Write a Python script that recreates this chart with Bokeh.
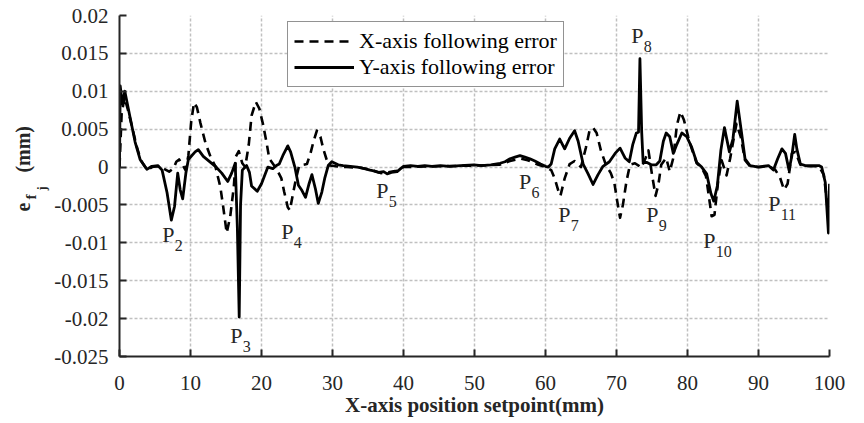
from bokeh.plotting import figure
from bokeh.models import FixedTicker, Legend, LegendItem, Title, Range1d
from bokeh.embed import file_html
from bokeh.resources import INLINE
from bokeh.core.properties import value

# ---------------- data ----------------
x_err_pos = [0, 0.3, 0.7, 1.2, 1.8, 2.4, 3.0, 3.9, 4.6, 5.4, 6.2, 7.0, 7.6, 8.0, 8.4, 8.8, 9.3, 9.7,
             10.1, 10.5, 10.9, 11.4, 12.1, 12.8, 13.5, 14.2, 14.6, 15.1, 15.6, 16.1, 16.4, 16.8, 17.3,
             17.7, 18.2, 18.6, 19.2, 19.7, 20.2, 20.7, 21.1, 22.1, 22.8, 23.2, 23.7, 24.0, 24.4, 24.8,
             25.3, 26.4, 26.9, 27.3, 27.8, 28.3, 28.7, 29.2, 29.6, 30.5, 32, 34, 35.5, 36.8, 37.8, 39,
             40, 45, 50, 53.5, 55, 56.5, 57.5, 59, 60, 60.8, 61.3, 61.8, 62.1, 62.7, 63.4, 64.1, 65.0,
             65.7, 66.2, 66.7, 67.2, 67.8, 68.5, 69.2, 69.7, 70.1, 70.5, 70.9, 71.4, 71.9, 72.6, 73.1,
             73.5, 74.1, 74.5, 75.0, 75.5, 75.9, 76.3, 77.0, 77.5, 78.0, 78.5, 79.0, 79.5, 80.1, 80.6,
             81.3, 82.0, 82.6, 83.0, 83.4, 83.8, 84.3, 84.8, 85.5, 86.0, 86.5, 86.9, 87.5, 88.1, 88.8,
             90, 91.4, 92.3, 93.0, 93.6, 94.1, 94.7, 95.2, 95.9, 97, 98.5, 99.2, 99.7, 100]
x_err_val = [0.0, 0.007, 0.0092, 0.0075, 0.0052, 0.0028, 0.0009, -0.0004, 0.0, 0.0001, -0.0002, -0.0006,
             -0.0002, 0.0007, 0.0010, 0.0004, -0.0004, 0.0015, 0.0060, 0.0085, 0.0079, 0.0058, 0.0032,
             0.0014, 0.0001, -0.0026, -0.0052, -0.0087, -0.0065, -0.0026, 0.0014, 0.0021, 0.0005, 0.0,
             0.0029, 0.0068, 0.0086, 0.0077, 0.0057, 0.0033, 0.0011, -0.0002, -0.0015, -0.0033, -0.0053,
             -0.0057, -0.0037, -0.0018, 0.0002, 0.0004, 0.0018, 0.0033, 0.0048, 0.0040, 0.0024, 0.0009,
             0.0002, 0.0001, 0.0, -0.0001, -0.0004, -0.0008, -0.0007, -0.0005, 0.0, 0.0001, 0.0002,
             0.0003, 0.0008, 0.0011, 0.0009, 0.0003, 0.0, -0.0004, -0.0015, -0.0031, -0.0038, -0.0015,
             0.0004, 0.0008, 0.0, 0.0026, 0.0048, 0.0052, 0.0045, 0.0022, 0.0003, -0.0008, -0.0021,
             -0.0045, -0.0067, -0.0050, -0.0019, 0.0003, 0.0005, 0.0002, -0.0001, 0.0012, 0.0022,
             -0.0010, -0.0038, -0.0023, 0.0003, 0.0012, -0.0006, 0.0012, 0.0055, 0.0073, 0.0062, 0.0040,
             0.0024, 0.0005, -0.0001, -0.0012, -0.0038, -0.0065, -0.0063, -0.0020, 0.0009, -0.0011,
             0.0011, 0.0037, 0.0057, 0.0040, 0.0009, 0.0001, 0.0, 0.0001, -0.0003, -0.0013, -0.0030,
             -0.0022, 0.0018, 0.0020, 0.0003, 0.0001, 0.0001, -0.0010, -0.0050, -0.0060]

y_err_pos = [0, 0.1, 0.4, 0.75, 1.5, 2.2, 2.9, 3.85, 4.55, 5.4, 6.0, 6.7, 7.3, 7.75, 8.2, 8.55, 8.9, 9.35,
             9.7, 10.65, 11.1, 11.8, 13.5, 14.4, 15.25, 15.8, 16.3, 16.6, 16.86, 17.05, 17.3, 17.9, 18.3,
             18.6, 19.4, 20.0, 20.9, 21.6, 22.1, 22.5, 23.0, 23.7, 24.1, 24.7, 25.2, 25.7, 26.2, 26.7,
             27.1, 27.6, 28.0, 28.5, 28.9, 29.4, 29.9, 30.8, 31.5, 32.5, 33.5, 34.5, 35.3, 35.8, 36.5,
             37.2, 37.7, 38.3, 39.1, 39.6, 40.0, 41, 42, 43, 44, 45.2, 46.5, 48, 49.9, 51, 52.3, 53.6,
             54.3, 55, 55.7, 56.4, 57.1, 57.8, 58.5, 59.3, 60.0, 60.4, 60.8, 61.3, 62.0, 62.7, 63.4,
             64.1, 64.6, 65.3, 66.0, 66.7, 67.4, 68.1, 69.0, 69.8, 70.5, 71.2, 71.8, 72.3, 72.8, 73.1,
             73.3, 73.55, 73.75, 74.3, 74.9, 75.6, 76.1, 76.6, 77.0, 77.5, 78.0, 78.5, 79.2, 79.9, 80.6,
             81.3, 82.0, 82.7, 83.3, 83.7, 84.2, 84.7, 85.2, 85.9, 86.4, 87.0, 87.6, 88.1, 88.8, 90.0,
             91.4, 92.1, 92.7, 93.3, 93.8, 94.3, 94.7, 95.1, 95.4, 95.9, 96.6, 97.5, 98.5, 98.9, 99.4,
             99.85, 100.0]
y_err_val = [0.0, 0.0107, 0.0083, 0.0100, 0.0065, 0.0033, 0.0010, -0.0003, 0.0001, 0.0002, -0.0004,
             -0.0034, -0.0070, -0.0052, -0.0008, -0.0030, -0.0042, -0.0008, 0.0010, 0.0020, 0.0023,
             0.0014, 0.0001, -0.0008, -0.0019, -0.0008, 0.0005, -0.0080, -0.0198, -0.0050, -0.0004,
             0.0002, -0.0007, -0.0025, -0.0032, -0.0022, 0.0, -0.0002, 0.0002, 0.0004, 0.0015, 0.0028,
             0.0020, 0.0, -0.0024, -0.0031, -0.0040, -0.0022, -0.0010, -0.0029, -0.0048, -0.0033,
             -0.0015, 0.0002, 0.0007, 0.0003, 0.0002, 0.0001, 0.0, -0.0002, -0.0004, -0.0005, -0.0007,
             -0.0006, -0.0009, -0.0007, -0.0006, -0.0002, 0.0001, 0.0002, 0.0001, 0.0002, 0.0001,
             0.0002, 0.0001, 0.0002, 0.0003, 0.0002, 0.0003, 0.0005, 0.0007, 0.0011, 0.0013, 0.0015,
             0.0013, 0.0011, 0.0008, 0.0004, 0.0001, 0.0, 0.0004, 0.0024, 0.0037, 0.0024, 0.0038,
             0.0048, 0.0034, 0.0004, -0.0009, -0.0023, -0.0010, 0.0001, 0.0007, 0.0018, 0.0025, 0.0012,
             0.0007, 0.0030, 0.0045, 0.0046, 0.0143, 0.0046, 0.0006, 0.0006, 0.0003, 0.0003, 0.0008,
             0.0034, 0.0045, 0.0040, 0.0018, 0.0030, 0.0045, 0.0040, 0.0026, 0.0006, 0.0, -0.0009,
             -0.0035, -0.0045, -0.0025, 0.0022, 0.0052, 0.0020, 0.0037, 0.0087, 0.0046, 0.0011, 0.0002,
             0.0, 0.0002, -0.0004, 0.0011, 0.0024, 0.0018, -0.0004, 0.0015, 0.0043, 0.0024, 0.0004,
             0.0002, 0.0002, 0.0002, 0.0, -0.0020, -0.0087, -0.0022]

x_tick_values = [0, 10, 20, 30, 40, 50, 60, 70, 80, 90, 100]
x_tick_labels = ["0", "10", "20", "30", "40", "50", "60", "70", "80", "90", "100"]
y_tick_values = [-0.025, -0.02, -0.015, -0.01, -0.005, 0, 0.005, 0.01, 0.015, 0.02]
y_tick_labels = ["-0.025", "-0.02", "-0.015", "-0.01", "-0.005", "0", "0.005", "0.01", "0.015", "0.02"]

series_names = ["X-axis following error", "Y-axis following error"]
x_axis_title = "X-axis position setpoint(mm)"

# point annotations P2..P11 (data coordinates)
peak_names = ["2", "3", "4", "5", "6", "7", "8", "9", "10", "11"]
peak_label_x = [6.01, 15.59, 22.77, 36.16, 56.27, 61.79, 72.06, 74.19, 82.21, 91.36]
peak_label_y = [-0.00893, -0.0222, -0.00853, -0.00305, -0.00186, -0.00622, 0.01736, -0.00622, -0.00966, -0.00477]

# y-axis title e_{f_j} (mm): pieces, from the frame outward
NBSP = "\u00a0"
ytitle_text = ["j", "f", "e" + NBSP * 6 + "(mm)"]
ytitle_size = ["12px", "15px", "20px"]
ytitle_offset = [166, 157, 145]
ytitle_standoff = [6, -19, -8]

SERIF = "Liberation Serif"
DARK = "#262626"

p = figure(width=856, height=422,
           x_range=Range1d(0, 100), y_range=Range1d(-0.025, 0.02),
           output_backend="svg", toolbar_location=None,
           min_border_left=119, min_border_right=27, min_border_top=15, min_border_bottom=66)
p.outline_line_color = None
p.background_fill_color = "white"

# grid
for g in (p.xgrid, p.ygrid):
    g.grid_line_color = "#c0c0c0"
    g.grid_line_dash = "3 2"
    g.grid_line_width = 1.5
p.xgrid.ticker = FixedTicker(ticks=x_tick_values)
p.ygrid.ticker = FixedTicker(ticks=y_tick_values)

# axes
p.xaxis.ticker = FixedTicker(ticks=x_tick_values, minor_ticks=[])
p.yaxis.ticker = FixedTicker(ticks=y_tick_values, minor_ticks=[])
p.xaxis.major_label_overrides = dict(zip(x_tick_values, x_tick_labels))
p.yaxis.major_label_overrides = dict(zip(y_tick_values, y_tick_labels))
for ax in (p.xaxis, p.yaxis):
    ax.axis_line_color = DARK
    ax.axis_line_width = 2
    ax.major_tick_line_color = DARK
    ax.major_tick_line_width = 2
    ax.major_tick_in = 7
    ax.major_tick_out = 0
    ax.minor_tick_line_color = None
    ax.major_label_text_font = SERIF
    ax.major_label_text_font_size = "21px"
    ax.major_label_text_color = DARK
p.xaxis.major_label_standoff = 19
p.yaxis.major_label_standoff = 11
p.xaxis.axis_label = x_axis_title
p.xaxis.axis_label_text_font = SERIF
p.xaxis.axis_label_text_font_size = "21px"
p.xaxis.axis_label_text_font_style = "bold"
p.xaxis.axis_label_text_color = DARK
p.xaxis.axis_label_standoff = 0

# lines
rx = p.line(x_err_pos, x_err_val, line_color="black", line_width=2.6, line_dash="9 6", line_join="round")
ry = p.line(y_err_pos, y_err_val, line_color="black", line_width=2.8, line_join="round")

legend = Legend(items=[LegendItem(label=series_names[0], renderers=[rx]),
                       LegendItem(label=series_names[1], renderers=[ry])],
                location=(168, 269), orientation="vertical")
legend.label_text_font = SERIF
legend.label_text_font_size = "22px"
legend.label_text_color = "black"
legend.border_line_color = DARK
legend.border_line_width = 1
legend.background_fill_alpha = 1
legend.glyph_width = 60
legend.glyph_height = 24
legend.label_height = 24
legend.label_standoff = 5
legend.padding = 6
legend.spacing = 0
legend.margin = 0
p.add_layout(legend)

# P labels
p.text(x=peak_label_x, y=peak_label_y, text=["P"] * len(peak_names),
       text_font=value(SERIF), text_font_size="22px", text_color=DARK,
       text_align="left", text_baseline="middle")
p.text(x=peak_label_x, y=peak_label_y, text=peak_names,
       text_font=value(SERIF), text_font_size="16px", text_color=DARK,
       text_align="left", text_baseline="middle", x_offset=12.5, y_offset=11)

# rotated y-axis title (side-panel titles so it is not clipped)
for t, sz, off, so in zip(ytitle_text, ytitle_size, ytitle_offset, ytitle_standoff):
    p.add_layout(Title(text=t, text_font=SERIF, text_font_style="bold", text_font_size=sz,
                       text_color=DARK, align="left", offset=off, standoff=so,
                       vertical_align="bottom"), "left")

open("out.html", "w").write(file_html(p, INLINE))
